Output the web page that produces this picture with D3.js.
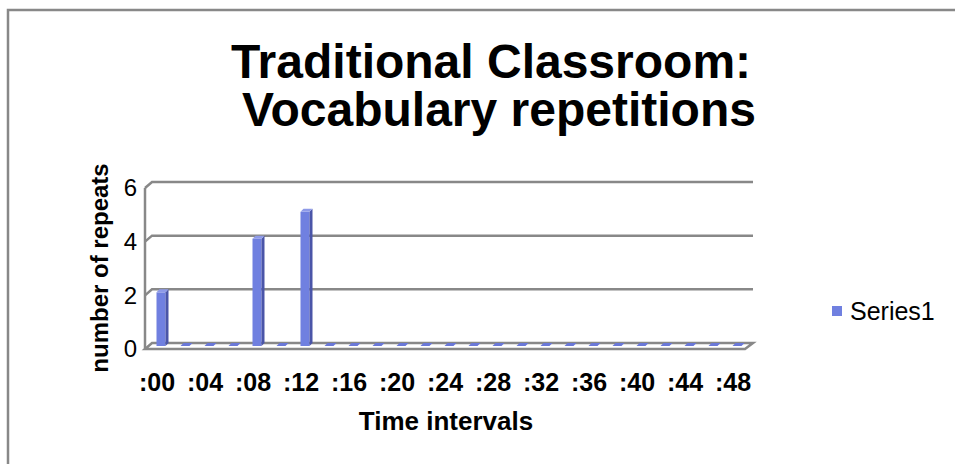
<!DOCTYPE html>
<html>
<head>
<meta charset="utf-8">
<script src="https://cdn.jsdelivr.net/npm/d3@7"></script>
<style>
  body { margin: 0; background: #fff; }
  text { font-family: "Liberation Sans", Arial, sans-serif; }
</style>
</head>
<body>
<div id="chart"></div>
<script>
const categories = [":00", ":02", ":04", ":06", ":08", ":10", ":12", ":14", ":16", ":18", ":20", ":22", ":24",
  ":26", ":28", ":30", ":32", ":34", ":36", ":38", ":40", ":42", ":44", ":46", ":48"];
const series1 = [2, 0, 0, 0, 4, 0, 5, 0, 0, 0, 0, 0, 0, 0, 0, 0, 0, 0, 0, 0, 0, 0, 0, 0, 0];
const tickLabels = [":00", ":04", ":08", ":12", ":16", ":20", ":24", ":28", ":32", ":36", ":40", ":44", ":48"];
const yTicks = [0, 2, 4, 6];

const width = 955, height = 464;
const svg = d3.select("#chart").append("svg")
  .attr("width", width)
  .attr("height", height);

// chart border
svg.append("rect")
  .attr("x", 8).attr("y", 10)
  .attr("width", 960).attr("height", 470)
  .attr("fill", "none")
  .attr("stroke", "#888")
  .attr("stroke-width", 2.5);

// title
const title = svg.append("text")
  .attr("text-anchor", "middle")
  .attr("font-weight", "bold")
  .attr("font-size", "48px");
title.append("tspan").attr("x", 491).attr("y", 78).text("Traditional Classroom:");
title.append("tspan").attr("x", 499).attr("y", 126).text("Vocabulary repetitions");

const x = d3.scaleBand().domain(categories).range([145, 745]);
const y = d3.scaleLinear().domain([0, 6]).range([349, 188]);
const DX = 7, DY = -6;   // depth of the 3D box

const line = d3.line();
const grid = "#888";

// gridlines on the back wall, with the slanted piece on the side wall
yTicks.filter(t => t > 0).forEach(t => {
  svg.append("path")
    .attr("d", line([[145, y(t)], [145 + DX, y(t) + DY], [x.range()[1] + DX + 1, y(t) + DY]]))
    .attr("fill", "none")
    .attr("stroke", grid)
    .attr("stroke-width", 2.5);
});

// floor
svg.append("path")
  .attr("d", line([[145, y(0)], [x.range()[1], y(0)], [x.range()[1] + DX + 1, y(0) + DY], [145 + DX, y(0) + DY]]) + "Z")
  .attr("fill", "#fff")
  .attr("stroke", grid)
  .attr("stroke-width", 2.5);

// side wall edge
svg.append("line")
  .attr("x1", 145).attr("x2", 145)
  .attr("y1", y(0)).attr("y2", y(6))
  .attr("stroke", grid)
  .attr("stroke-width", 2.5);

// 3D columns
const bw = 9, bd = 3;
const data = categories.map((c, i) => ({ c, v: series1[i] }));
const bars = svg.append("g");
data.forEach(d => {
  const bx = x(d.c) + x.bandwidth() / 2 + 4 - bw / 2;
  const bottom = y(0) - 3;
  const top = y(d.v) - 3;
  if (d.v > 0) {
    bars.append("rect")
      .attr("x", bx).attr("y", top)
      .attr("width", bw).attr("height", bottom - top)
      .attr("fill", "#7080e0");
    bars.append("path")
      .attr("d", line([[bx + bw, top], [bx + bw + bd, top - bd], [bx + bw + bd, bottom - bd], [bx + bw, bottom]]) + "Z")
      .attr("fill", "#4a55a8");
  }
  bars.append("path")
    .attr("d", line([[bx, top], [bx + bw, top], [bx + bw + bd, top - bd], [bx + bd, top - bd]]) + "Z")
    .attr("fill", d.v > 0 ? "#8e9ae8" : "#6a78d8");
});

// y tick labels
svg.append("g").selectAll("text")
  .data(yTicks)
  .enter().append("text")
  .attr("x", 137)
  .attr("y", d => y(d))
  .attr("dy", "0.35em")
  .attr("text-anchor", "end")
  .attr("font-size", "24px")
  .text(d => d);

// x tick labels
svg.append("g").selectAll("text")
  .data(tickLabels)
  .enter().append("text")
  .attr("x", d => x(d) + x.bandwidth() / 2)
  .attr("y", 391)
  .attr("text-anchor", "middle")
  .attr("font-weight", "bold")
  .attr("font-size", "25px")
  .text(d => d);

// axis titles
svg.append("text")
  .attr("x", 446).attr("y", 430)
  .attr("text-anchor", "middle")
  .attr("font-weight", "bold")
  .attr("font-size", "26px")
  .text("Time intervals");

svg.append("text")
  .attr("transform", "translate(108,268) rotate(-90)")
  .attr("text-anchor", "middle")
  .attr("font-weight", "bold")
  .attr("font-size", "24px")
  .text("number of repeats");

// legend
svg.append("rect")
  .attr("x", 832).attr("y", 306)
  .attr("width", 10).attr("height", 10)
  .attr("fill", "#7080e0");
svg.append("text")
  .attr("x", 850).attr("y", 320)
  .attr("font-size", "25px")
  .text("Series1");
</script>
</body>
</html>
